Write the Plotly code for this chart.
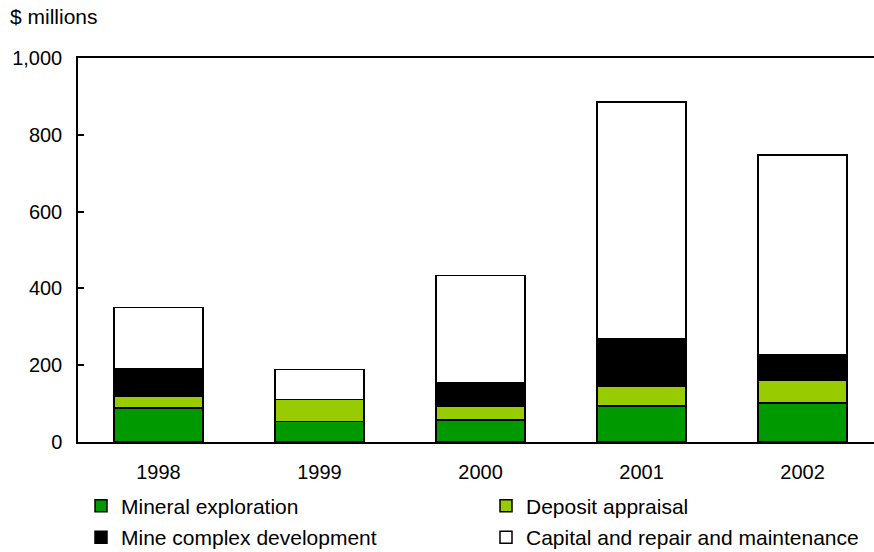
import plotly.graph_objects as go

years = ["1998", "1999", "2000", "2001", "2002"]
mineral_exploration = [88, 53, 57, 94, 101]
deposit_appraisal = [30, 58, 37, 52, 59]
mine_complex_development = [72, 0, 60, 124, 67]
capital_repair_maintenance = [160, 78, 280, 616, 520]
y_ticks = [0, 200, 400, 600, 800, 1000]

W, H = 874, 552
FONT = "Liberation Sans, Arial, Helvetica, sans-serif"
FS = 20
LFS = 21

series = [
    ("Mineral exploration", mineral_exploration, "#009900", "legend"),
    ("Deposit appraisal", deposit_appraisal, "#99CC00", "legend2"),
    ("Mine complex development", mine_complex_development, "#000000", "legend3"),
    ("Capital and repair and maintenance", capital_repair_maintenance, "#FFFFFF", "legend4"),
]

fig = go.Figure()
for name, vals, color, leg in series:
    fig.add_trace(go.Bar(
        x=years, y=vals, name=name, width=0.55,
        marker=dict(color=color, line=dict(color="black", width=1.5)),
        legend=leg,
    ))

def legend_at(xpx, ypx):
    return dict(
        xref="container", yref="container",
        x=xpx / W, y=1 - ypx / H,
        xanchor="left", yanchor="middle",
        bgcolor="rgba(0,0,0,0)", borderwidth=0,
        font=dict(family=FONT, size=LFS, color="black"),
    )

fig.update_layout(
    width=W, height=H,
    margin=dict(l=78, r=0, t=58, b=110, autoexpand=False),
    barmode="stack",
    plot_bgcolor="white", paper_bgcolor="white",
    font=dict(family=FONT, size=FS, color="black"),
    title=dict(text="$ millions", x=10 / W, xref="container", xanchor="left",
               y=1 - 17 / H, yref="container", yanchor="middle",
               font=dict(family=FONT, size=21, color="black")),
    showlegend=True,
    legend=legend_at(81, 506),
    legend2=legend_at(486, 506),
    legend3=legend_at(81, 537.5),
    legend4=legend_at(486, 537.5),
    xaxis=dict(
        type="category", range=[-0.5, 4.444],
        showline=True, linecolor="black", linewidth=1.5, mirror=True,
        ticks="", showgrid=False, ticklabelstandoff=11,
        tickfont=dict(family=FONT, size=FS, color="black"),
    ),
    yaxis=dict(
        range=[0, 1000], tickvals=y_ticks, tickformat=",",
        showline=True, linecolor="black", linewidth=1.5,
        ticks="inside", ticklen=6, tickwidth=1.5, tickcolor="black",
        showgrid=False, zeroline=False, ticklabelstandoff=10,
        tickfont=dict(family=FONT, size=FS, color="black"),
    ),
)

fig.write_html("out.html")
